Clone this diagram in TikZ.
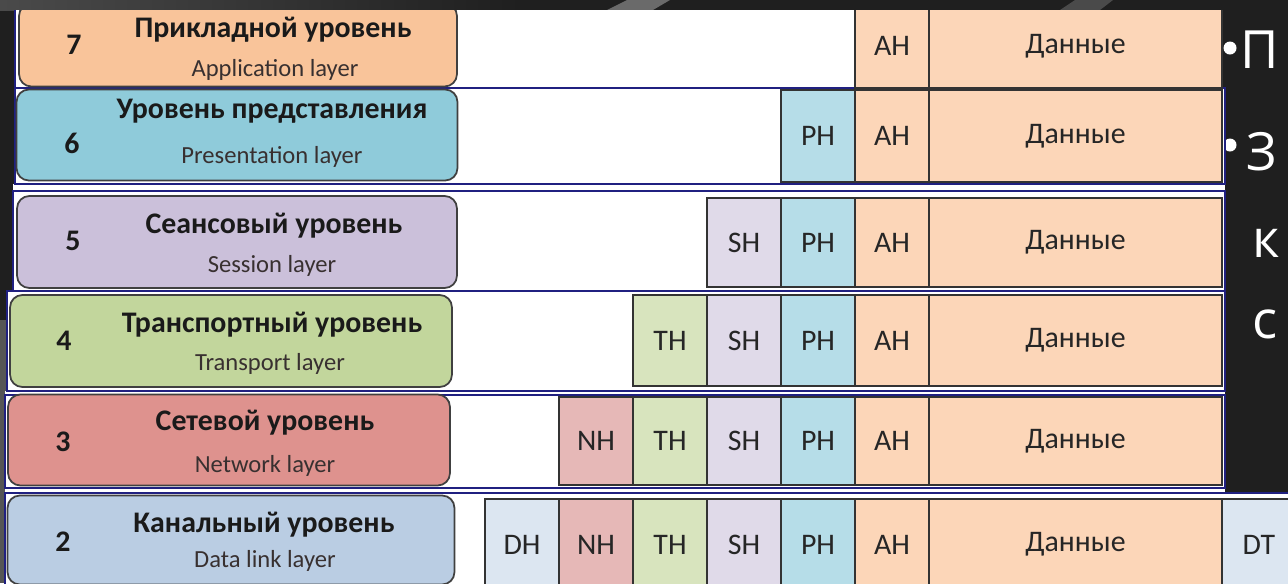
\documentclass[tikz,border=0pt]{standalone}
\usepackage{fontspec}
\setmainfont{Carlito}
\newfontfamily\slidefont{Open Sans}
\usetikzlibrary{positioning,calc}

\definecolor{slidebg}{HTML}{1F1F1F}
\definecolor{topgray}{HTML}{4A4A4A}
\definecolor{wedgegray}{HTML}{6A6A6A}
\definecolor{sidegray}{HTML}{555555}
\definecolor{stripline}{RGB}{32,32,128}
\definecolor{boxline}{HTML}{404040}
\definecolor{cellline}{HTML}{333333}
\definecolor{celltext}{HTML}{262626}
\definecolor{darktext}{HTML}{1A1A1A}
\definecolor{subtext}{HTML}{383030}
\definecolor{lseven}{HTML}{F9C49A}
\definecolor{lsix}{HTML}{8FCBDA}
\definecolor{lfive}{HTML}{CBC0DA}
\definecolor{lfour}{HTML}{C2D69C}
\definecolor{lthree}{HTML}{DE928E}
\definecolor{ltwo}{HTML}{BACDE3}
\definecolor{ahcol}{HTML}{FCD6B8}
\definecolor{phcol}{HTML}{B6DDE8}
\definecolor{shcol}{HTML}{E0DAE9}
\definecolor{thcol}{HTML}{D8E4BE}
\definecolor{nhcol}{HTML}{E6B8B7}
\definecolor{dhcol}{HTML}{DCE6F1}

\begin{document}
\begin{tikzpicture}[x=0.02cm, y=-0.02cm,
                strip/.style={fill=white, draw=stripline, line width=1.2pt},
                layer/.style={draw=boxline, line width=1pt, rounded corners=7pt, inner sep=0pt, outer sep=0pt},
                hdrcell/.style={draw=cellline, line width=1.1pt, inner sep=0pt, outer sep=0pt,
                    minimum width=1.48cm, text=celltext, font=\fontsize{17}{18}\selectfont},
                datacell/.style={hdrcell, minimum width=5.86cm, fill=ahcol},
                lnum/.style={font=\bfseries\fontsize{17}{20}\selectfont, text=darktext},
                lname/.style={font=\bfseries\fontsize{17}{20}\selectfont, text=darktext},
                lsub/.style={font=\fontsize{14}{16}\selectfont, text=subtext},
                slide/.style={font=\slidefont\fontsize{30}{36}\selectfont, text=white, anchor=base west, inner sep=0pt},
                dot/.style={circle, fill=white, minimum size=0.26cm, inner sep=0pt},
                rowseven/.style={minimum height=1.68cm},
                rowsix/.style={minimum height=1.84cm},
                rowfive/.style={minimum height=1.78cm},
                rowfour/.style={minimum height=1.82cm},
                rowthree/.style={minimum height=1.76cm},
                rowtwo/.style={minimum height=1.82cm}]
                \useasboundingbox (0,0) rectangle (1288,583);
                \fill[slidebg] (0,0) rectangle (1288,583);
                \shade[left color=topgray, right color=slidebg] (0,0) rectangle (520,10);
                \fill[wedgegray] (607,10) -- (627,0) -- (670,0) -- (653,10) -- cycle;
                \fill[topgray] (1060,10) -- (1075,0) -- (1113,0) -- (1100,10) -- cycle;
                \fill[sidegray] (0,320) rectangle (8,583);

                \node[dot] (B1) at (1230,48) {};
                \node[slide] (P1) at (1240,68) {П};
                \node[dot] (B2) at (1230,145) {};
                \node[slide] (P2) at (1246,170) {З};
                \node[slide] (P3) at (1252,257) {к};
                \node[slide] (P4) at (1252,338) {с};

                \begin{scope}
                \clip (0,10) rectangle (1288,583);
                \fill[white] (13,184) rectangle (1225,191);
                \fill[white] (5,391) rectangle (1225,395);
                \fill[white] (5,488) rectangle (1225,493);
                \fill[white] (15,4) rectangle (1222,88);
                \draw[stripline, line width=1.2pt] (15,4) -- (15,88);
                \draw[strip] (15,88) rectangle (1225,184);
                \draw[strip] (13,191) rectangle (1225,291);
                \draw[strip] (7,291) rectangle (1225,391);
                \draw[strip] (5,395) rectangle (1225,488);
                \draw[strip] (5,493) rectangle (1300,600);

                \node[layer, fill=lseven, minimum width=8.76cm, minimum height=1.66cm] (L7) at (238,45) {};
                \node[layer, fill=lsix, minimum width=8.82cm, minimum height=1.82cm] (L6) at (237,135) {};
                \node[layer, fill=lfive, minimum width=8.8cm, minimum height=1.84cm] (L5) at (237,242) {};
                \node[layer, fill=lfour, minimum width=8.84cm, minimum height=1.84cm] (L4) at (231,341) {};
                \node[layer, fill=lthree, minimum width=8.84cm, minimum height=1.82cm] (L3) at (229,440) {};
                \node[layer, fill=ltwo, minimum width=8.94cm, minimum height=1.78cm] (L2) at (231,540) {};

                \node[lnum] (N7) at (74,45) {7};
                \node[lname] (R7) at (273,30) {Прикладной уровень};
                \node[lsub] (E7) at (275,70) {Application layer};
                \node[lnum] (N6) at (72,143) {6};
                \node[lname] (R6) at (272,111) {Уровень представления};
                \node[lsub] (E6) at (272,157) {Presentation layer};
                \node[lnum] (N5) at (73,241) {5};
                \node[lname] (R5) at (274,226) {Сеансовый уровень};
                \node[lsub] (E5) at (272,266) {Session layer};
                \node[lnum] (N4) at (64,341) {4};
                \node[lname] (R4) at (272,325) {Транспортный уровень};
                \node[lsub] (E4) at (270,364) {Transport layer};
                \node[lnum] (N3) at (63,442) {3};
                \node[lname] (R3) at (265,423) {Сетевой уровень};
                \node[lsub] (E3) at (265,466) {Network layer};
                \node[lnum] (N2) at (63,542) {2};
                \node[lname] (R2) at (264,525) {Канальный уровень};
                \node[lsub] (E2) at (265,561) {Data link layer};

                \node[hdrcell, rowseven, fill=ahcol] (AH7) at (892,46) {AH};
                \node[datacell, rowseven] (D7) [right=0pt of AH7] {Данные};

                \node[hdrcell, rowsix, fill=ahcol] (AH6) at (892,136) {AH};
                \node[datacell, rowsix] (D6) [right=0pt of AH6] {Данные};
                \node[hdrcell, rowsix, fill=phcol] (PH6) [left=0pt of AH6] {PH};

                \node[hdrcell, rowfive, fill=ahcol] (AH5) at (892,242.5) {AH};
                \node[datacell, rowfive] (D5) [right=0pt of AH5] {Данные};
                \node[hdrcell, rowfive, fill=phcol] (PH5) [left=0pt of AH5] {PH};
                \node[hdrcell, rowfive, fill=shcol] (SH5) [left=0pt of PH5] {SH};

                \node[hdrcell, rowfour, fill=ahcol] (AH4) at (892,340.5) {AH};
                \node[datacell, rowfour] (D4) [right=0pt of AH4] {Данные};
                \node[hdrcell, rowfour, fill=phcol] (PH4) [left=0pt of AH4] {PH};
                \node[hdrcell, rowfour, fill=shcol] (SH4) [left=0pt of PH4] {SH};
                \node[hdrcell, rowfour, fill=thcol] (TH4) [left=0pt of SH4] {TH};

                \node[hdrcell, rowthree, fill=ahcol] (AH3) at (892,441) {AH};
                \node[datacell, rowthree] (D3) [right=0pt of AH3] {Данные};
                \node[hdrcell, rowthree, fill=phcol] (PH3) [left=0pt of AH3] {PH};
                \node[hdrcell, rowthree, fill=shcol] (SH3) [left=0pt of PH3] {SH};
                \node[hdrcell, rowthree, fill=thcol] (TH3) [left=0pt of SH3] {TH};
                \node[hdrcell, rowthree, fill=nhcol] (NH3) [left=0pt of TH3] {NH};

                \node[hdrcell, rowtwo, fill=ahcol] (AH2) at (892,544.5) {AH};
                \node[datacell, rowtwo] (D2) [right=0pt of AH2] {Данные};
                \node[hdrcell, rowtwo, fill=dhcol] (DT2) [right=0pt of D2] {DT};
                \node[hdrcell, rowtwo, fill=phcol] (PH2) [left=0pt of AH2] {PH};
                \node[hdrcell, rowtwo, fill=shcol] (SH2) [left=0pt of PH2] {SH};
                \node[hdrcell, rowtwo, fill=thcol] (TH2) [left=0pt of SH2] {TH};
                \node[hdrcell, rowtwo, fill=nhcol] (NH2) [left=0pt of TH2] {NH};
                \node[hdrcell, rowtwo, fill=dhcol] (DH2) [left=0pt of NH2] {DH};
                \end{scope}
            \end{tikzpicture}
\end{document}
